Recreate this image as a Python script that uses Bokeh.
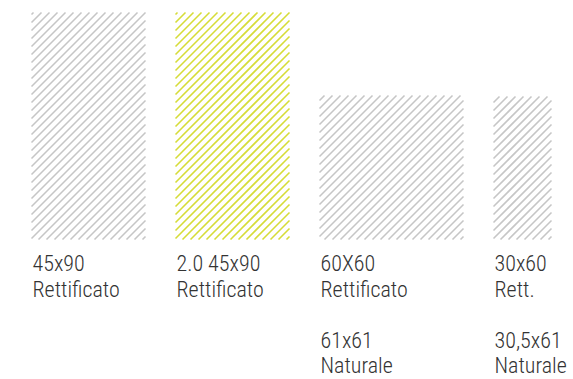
import numpy as np
from bokeh.plotting import figure
from bokeh.models import Range1d, ColumnDataSource
from bokeh.core.properties import value
from bokeh.embed import file_html
from bokeh.resources import INLINE

# ---- data ----
sizes = ["45x90", "2.0 45x90", "60X60", "30x60"]
finish = ["Rettificato", "Rettificato", "Rettificato", "Rett."]
alt_sizes = ["", "", "61x61", "30,5x61"]
alt_finish = ["", "", "Naturale", "Naturale"]
tile_w = [114, 114, 144, 58]     # drawn tile widths
tile_h = [227, 227, 144, 143]    # drawn tile heights
hatch_colors = ["#c6c6c6", "#d6dc38", "#c6c6c6", "#c6c6c6"]

GAP = 30
SPACING = 8
lefts = []
pos = 0
for w in tile_w:
    lefts.append(pos)
    pos += w + GAP
rights = [l + w for l, w in zip(lefts, tile_w)]

p = figure(width=573, height=379, output_backend="svg", toolbar_location=None,
           x_range=Range1d(-31, 542), y_range=Range1d(-140, 239),
           min_border=0, outline_line_color=None)
p.axis.visible = False
p.grid.visible = False
p.background_fill_color = "white"
p.border_fill_color = "white"

# 45-degree hatch lines clipped to each tile
x0s, y0s, x1s, y1s, cols = [], [], [], [], []
for l, w, h, c in zip(lefts, tile_w, tile_h, hatch_colors):
    for k in range(-w + 3, h, SPACING):
        t0 = max(0, -k)
        t1 = min(w, h - k)
        if t1 > t0:
            x0s.append(l + t0); y0s.append(t0 + k)
            x1s.append(l + t1); y1s.append(t1 + k)
            cols.append(c)
p.segment(x0=x0s, y0=y0s, x1=x1s, y1=y1s, line_color=cols, line_width=1.6)

font = value("Roboto Condensed Light, Roboto Condensed, DejaVu Sans Condensed, sans-serif")
tx = [l + 1 for l in lefts]
common = dict(text_font=font, text_font_size="22px", text_color="#333333",
              text_align="left", text_baseline="alphabetic")
p.text(x=tx, y=[-24]*4, text=sizes, **common)
p.text(x=tx, y=[-50]*4, text=finish, **common)
p.text(x=tx, y=[-101]*4, text=alt_sizes, **common)
p.text(x=tx, y=[-126]*4, text=alt_finish, **common)

open("out.html", "w").write(file_html(p, INLINE))
